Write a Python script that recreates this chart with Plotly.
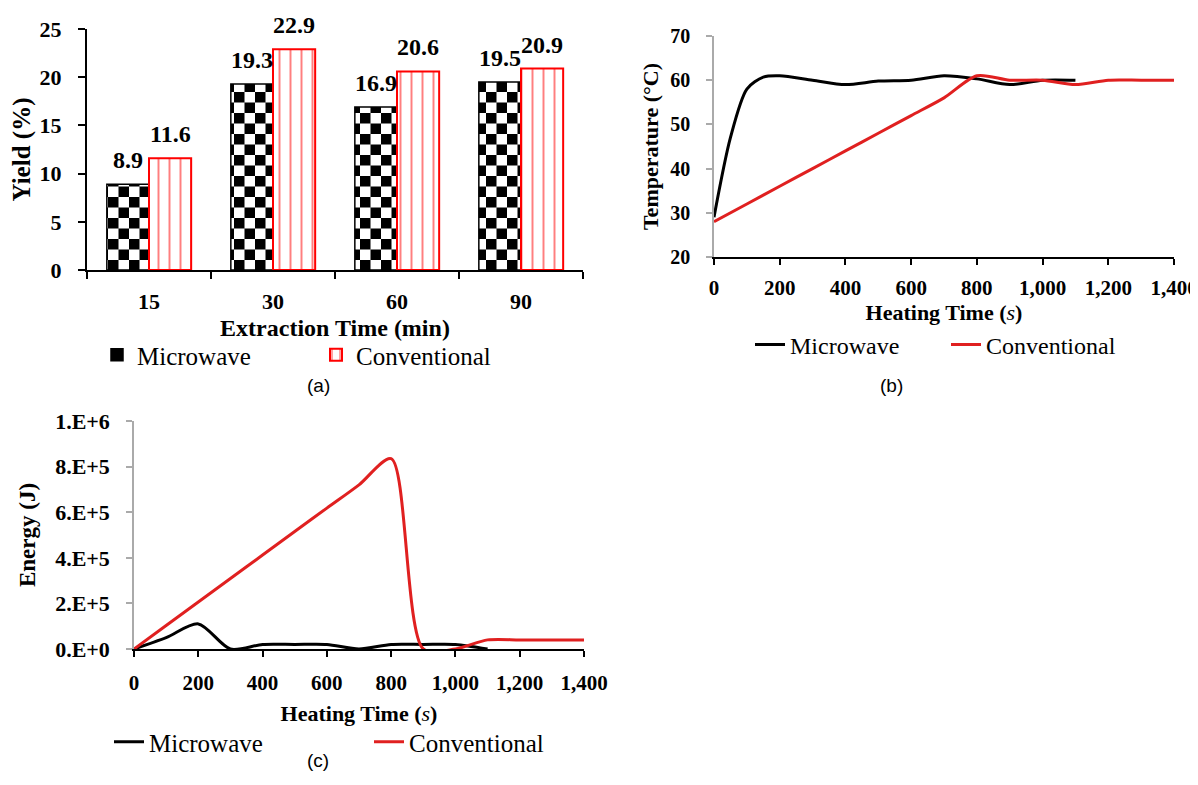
import plotly.graph_objects as go

# page body has an 8px margin, so the figure is drawn 8px in from the top-left
W, H = 1190, 777
OFF = 8

# ---------------- data ----------------
extraction_times = ["15", "30", "60", "90"]
yield_microwave = [8.9, 19.3, 16.9, 19.5]
yield_conventional = [11.6, 22.9, 20.6, 20.9]

temp_mw_time = [0, 50, 100, 150, 200, 300, 400, 500, 600, 700, 800, 900, 1000, 1100]
temp_mw_val = [29, 47, 58, 60.7, 61, 60, 59, 59.8, 60, 61, 60.3, 59, 60, 60]
temp_cv_time = [0, 100, 200, 300, 400, 500, 600, 700, 800, 900, 1000, 1100, 1200, 1300, 1400]
temp_cv_val = [28, 32, 36, 40, 44, 48, 52, 56, 61, 60, 60, 59, 60, 60, 60]

energy_mw_time = [0, 100, 200, 300, 400, 500, 600, 700, 800, 900, 1000, 1100]
energy_mw_val = [0, 5e4, 1.1e5, 0, 2e4, 2e4, 2e4, 0, 2e4, 2e4, 2e4, 0]
energy_cv_time = [0, 100, 200, 300, 400, 500, 600, 700, 800, 900, 1000, 1100, 1200, 1300, 1400]
energy_cv_val = [0, 1.03e5, 2.06e5, 3.09e5, 4.12e5, 5.15e5, 6.18e5, 7.2e5, 8.35e5, 0, 0, 4e4, 4e4, 4e4, 4e4]

time_ticks = [0, 200, 400, 600, 800, 1000, 1200, 1400]
time_tick_text = ["0", "200", "400", "600", "800", "1,000", "1,200", "1,400"]
energy_ticks = [0, 2e5, 4e5, 6e5, 8e5, 1e6]
energy_tick_text = ["0.E+0", "2.E+5", "4.E+5", "6.E+5", "8.E+5", "1.E+6"]

SERIF = "Liberation Serif"
SANS = "Liberation Sans"
RED_LINE = "#e02020"


def px_x(p):
    return (p - OFF) / W


def px_y(p):
    return 1 - (p - OFF) / H


try:
    checker = dict(path="M0,0H10.5V10.5H0ZM10.5,10.5H21V21H10.5Z", size=21,
                   fgcolor="black", bgcolor="white", fillmode="replace")
    go.bar.marker.Pattern(**checker)
except Exception:
    checker = dict(shape="+", size=10, solidity=0.5, fgcolor="black", bgcolor="white")

fig = go.Figure()

# ---------------- panel (a) ----------------
fig.add_trace(go.Bar(
    x=extraction_times, y=yield_microwave, name="Microwave",
    marker=dict(color="white", pattern=checker, line=dict(color="black", width=1.5)),
    xaxis="x", yaxis="y", legend="legend",
))
fig.add_trace(go.Bar(
    x=extraction_times, y=yield_conventional, name="Conventional",
    marker=dict(color="white", pattern=dict(shape="|", size=11, solidity=0.18,
                                            fgcolor="red", bgcolor="white"),
                line=dict(color="red", width=2)),
    xaxis="x", yaxis="y", legend="legend",
))

# ---------------- panel (b) ----------------
fig.add_trace(go.Scatter(x=temp_mw_time, y=temp_mw_val, name="Microwave", mode="lines",
                         line=dict(color="black", width=3, shape="spline", smoothing=0.8),
                         xaxis="x2", yaxis="y2", legend="legend2"))
fig.add_trace(go.Scatter(x=temp_cv_time, y=temp_cv_val, name="Conventional", mode="lines",
                         line=dict(color=RED_LINE, width=3, shape="spline", smoothing=0.8),
                         xaxis="x2", yaxis="y2", legend="legend2"))

# ---------------- panel (c) ----------------
fig.add_trace(go.Scatter(x=energy_mw_time, y=energy_mw_val, name="Microwave", mode="lines",
                         line=dict(color="black", width=3, shape="spline", smoothing=0.8),
                         xaxis="x3", yaxis="y3", legend="legend3", cliponaxis=True))
fig.add_trace(go.Scatter(x=energy_cv_time, y=energy_cv_val, name="Conventional", mode="lines",
                         line=dict(color=RED_LINE, width=3, shape="spline", smoothing=0.8),
                         xaxis="x3", yaxis="y3", legend="legend3", cliponaxis=True))


def tick_bold(s):
    return dict(family=SERIF, size=s, color="black", weight="bold")


def legend_cfg(x, y, ew, size):
    return dict(orientation="h", bgcolor="rgba(0,0,0,0)", xanchor="left",
                yanchor="middle", entrywidthmode="pixels", entrywidth=ew,
                x=x, y=y, font=dict(family=SERIF, size=size, color="black"))


# value labels above the bars (category index position, half a bar width left / right)
bar_labels = []
for i, (vm, vc) in enumerate(zip(yield_microwave, yield_conventional)):
    for v, shift in ((vm, -21), (vc, 21)):
        bar_labels.append(dict(text=f"{v:.1f}", x=i, y=v, xref="x", yref="y",
                               xanchor="center", yanchor="bottom", xshift=shift, yshift=9,
                               showarrow=False, font=tick_bold(24)))

panel_labels = [
    dict(text="(a)", x=px_x(305), y=px_y(385), xref="paper", yref="paper",
         showarrow=False, font=dict(family=SANS, size=19, color="black")),
    dict(text="(b)", x=px_x(905), y=px_y(385), xref="paper", yref="paper",
         showarrow=False, font=dict(family=SANS, size=19, color="black")),
    dict(text="(c)", x=px_x(305), y=px_y(773), xref="paper", yref="paper",
         showarrow=False, font=dict(family=SANS, size=19, color="black")),
]

fig.update_layout(
    width=W, height=H,
    margin=dict(l=0, r=0, t=0, b=0, autoexpand=False),
    font=dict(family=SERIF, color="black"),
    paper_bgcolor="white", plot_bgcolor="white",
    barmode="group", bargap=0.32, bargroupgap=0,
    showlegend=True,
    xaxis=dict(domain=[px_x(87), px_x(583)], anchor="y", type="category", automargin=False,
               range=[-0.5, 3.5],
               tickson="boundaries", ticks="outside", ticklen=7, tickwidth=2,
               tickcolor="black", showline=True, linecolor="black", linewidth=2,
               showgrid=False, tickfont=tick_bold(22), ticklabelstandoff=11,
               title=dict(text="Extraction Time (min)", font=tick_bold(24), standoff=6)),
    yaxis=dict(domain=[px_y(270), px_y(29)], anchor="x", range=[0, 25], automargin=False,
               tickvals=[0, 5, 10, 15, 20, 25], ticks="outside", ticklen=7, tickwidth=2,
               tickcolor="black", showline=True, linecolor="black", linewidth=2,
               showgrid=False, zeroline=False, tickfont=tick_bold(22), ticklabelstandoff=12,
               title=dict(text="Yield (%)", font=tick_bold(25), standoff=6)),
    xaxis2=dict(domain=[px_x(714), px_x(1174)], anchor="y2", range=[0, 1400], automargin=False,
                tickvals=time_ticks, ticktext=time_tick_text, ticks="outside", ticklen=6,
                tickwidth=1.5, tickcolor="black", showline=True, linecolor="black",
                linewidth=1.5, showgrid=False, zeroline=False, tickfont=tick_bold(21),
                ticklabelstandoff=5, ticklabeloverflow="allow",
                title=dict(text="Heating Time (<i style='font-weight:normal'>s</i>)",
                           font=tick_bold(22), standoff=6)),
    yaxis2=dict(domain=[px_y(257), px_y(36)], anchor="x2", range=[20, 70], automargin=False,
                tickvals=[20, 30, 40, 50, 60, 70], ticks="outside", ticklen=6,
                tickwidth=1.5, tickcolor="#aaaaaa", showline=True, linecolor="#aaaaaa",
                linewidth=1.5, showgrid=False, zeroline=False, tickfont=tick_bold(20),
                ticklabelstandoff=12,
                title=dict(text="Temperature (°C)", font=tick_bold(22), standoff=6)),
    xaxis3=dict(domain=[px_x(134), px_x(584)], anchor="y3", range=[0, 1400], automargin=False,
                tickvals=time_ticks, ticktext=time_tick_text, ticks="outside", ticklen=6,
                tickwidth=1.5, tickcolor="black", showline=True, linecolor="black",
                linewidth=1.5, showgrid=False, zeroline=False, tickfont=tick_bold(21),
                ticklabelstandoff=8, ticklabeloverflow="allow",
                title=dict(text="Heating Time (<i style='font-weight:normal'>s</i>)",
                           font=tick_bold(22), standoff=12)),
    yaxis3=dict(domain=[px_y(649), px_y(421)], anchor="x3", range=[0, 1e6], automargin=False,
                tickvals=energy_ticks, ticktext=energy_tick_text, ticks="outside", ticklen=6,
                tickwidth=1.5, tickcolor="#aaaaaa", showline=True, linecolor="#aaaaaa",
                linewidth=1.5, showgrid=False, zeroline=False, tickfont=tick_bold(22),
                ticklabelstandoff=12,
                title=dict(text="Energy (J)", font=tick_bold(23), standoff=13)),
    legend=legend_cfg(px_x(97), px_y(355), 174, 25),
    legend2=legend_cfg(px_x(750), px_y(345), 151, 24),
    legend3=legend_cfg(px_x(109), px_y(742), 215, 25),
    annotations=bar_labels + panel_labels,
)

fig.write_html("out.html")
